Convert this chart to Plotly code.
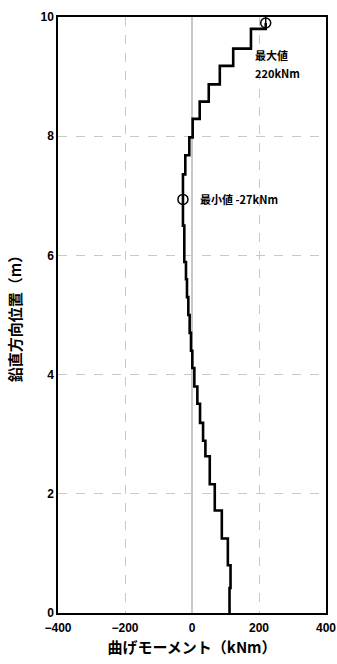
import plotly.graph_objects as go

# Bending moment profile (step-wise): heights (m) of segment starts and moments (kNm)
heights = [0.00, 0.42, 0.80, 1.25, 1.72, 2.16, 2.63, 2.89, 3.19, 3.51, 3.80, 4.11, 4.40,
           4.70, 5.00, 5.30, 5.60, 5.89, 6.50, 7.36, 7.68, 7.98, 8.29, 8.58, 8.87, 9.18,
           9.47, 9.80, 9.90]
moments = [112, 115, 107, 89, 68, 53, 40, 33, 24, 16, 7, 1, -3,
           -7, -11, -15, -18, -23, -27, -20, -8, 2, 23, 50, 83, 123,
           176, 220, 220]

max_point = (220, 9.90)
min_point = (-27, 6.94)
max_label = ["最大値", "220kNm"]
min_label = "最小値 -27kNm"

x_ticks = [-400, -200, 0, 200, 400]
y_ticks = [0, 2, 4, 6, 8, 10]

FONT = "Liberation Sans, Noto Sans CJK JP, sans-serif"
JP = "Noto Sans CJK JP, sans-serif"

fig = go.Figure()
fig.add_trace(go.Scatter(x=moments, y=heights, mode="lines",
                         line=dict(color="black", width=2.6, shape="vh"),
                         showlegend=False, hoverinfo="skip"))
fig.add_trace(go.Scatter(x=[max_point[0], min_point[0]], y=[max_point[1], min_point[1]],
                         mode="markers",
                         marker=dict(symbol="circle-open", size=10, color="black",
                                     line=dict(width=1.5, color="black")),
                         showlegend=False, hoverinfo="skip"))
fig.add_trace(go.Scatter(x=[max_point[0]], y=[max_point[1]],
                         mode="markers",
                         marker=dict(symbol="line-ns-open", size=10, color="black",
                                     line=dict(width=1.5, color="black")),
                         showlegend=False, hoverinfo="skip"))

fig.add_annotation(x=182, y=9.36, text=max_label[0], showarrow=False, xanchor="left",
                   font=dict(family=JP, size=11, color="black", weight="bold"))
fig.add_annotation(x=182, y=9.06, text=max_label[1], showarrow=False, xanchor="left",
                   font=dict(family=JP, size=11, color="black", weight="bold"))
fig.add_annotation(x=19, y=min_point[1], text=min_label, showarrow=False, xanchor="left",
                   font=dict(family=JP, size=11, color="black", weight="bold"))

grid = dict(showgrid=True, gridcolor="#c8c8c8", gridwidth=1.3, griddash="dash",
            showline=True, linecolor="black", linewidth=1.5, mirror=True,
            automargin=False,
            ticks="", tickfont=dict(family=FONT, size=12, color="black", weight="bold"))

fig.update_xaxes(range=[-400, 400], tickvals=x_ticks, zeroline=True,
                 zerolinecolor="#c8c8c8", zerolinewidth=1.5, ticklabelstandoff=3,
                 title=dict(text="曲げモーメント（kNm）", standoff=8,
                            font=dict(family=JP, size=15, color="black", weight="bold")),
                 **grid)
fig.update_yaxes(range=[0, 10], tickvals=y_ticks, zeroline=False,
                 title=dict(text="鉛直方向位置（m）", standoff=15,
                            font=dict(family=JP, size=15, color="black", weight="bold")),
                 **grid)

fig.update_layout(width=337, height=664, margin=dict(l=58, r=11, t=17, b=51),
                  plot_bgcolor="white", paper_bgcolor="white")

fig.write_html("out.html", config={"displayModeBar": False},
               post_script="document.body.style.margin='0';document.body.style.overflow='hidden';")
